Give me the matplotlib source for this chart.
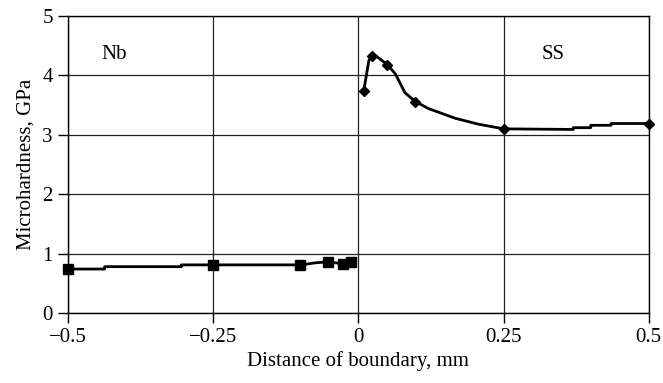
import matplotlib
matplotlib.use("Agg")
import matplotlib.pyplot as plt

# measured points (markers)
nb_x = [-0.5, -0.25, -0.10, -0.053, -0.027, -0.012]
nb_y = [0.74, 0.80, 0.80, 0.86, 0.83, 0.86]
ss_x = [0.009, 0.023, 0.050, 0.098, 0.25, 0.5]
ss_y = [3.73, 4.32, 4.18, 3.56, 3.10, 3.19]

# trace of the drawn line
nb_line_x = [-0.5, -0.437, -0.437, -0.305, -0.305, -0.098, -0.074, -0.053, -0.027, -0.012]
nb_line_y = [0.74, 0.74, 0.78, 0.78, 0.81, 0.81, 0.845, 0.86, 0.83, 0.86]
ss_line_x = [0.009, 0.018, 0.023, 0.030, 0.050, 0.064, 0.080, 0.098, 0.121, 0.166,
             0.206, 0.25, 0.37, 0.37, 0.40, 0.40, 0.435, 0.435, 0.5]
ss_line_y = [3.73, 4.25, 4.33, 4.33, 4.18, 4.02, 3.71, 3.56, 3.44, 3.28,
             3.18, 3.10, 3.09, 3.12, 3.12, 3.16, 3.16, 3.19, 3.19]

xticks = [-0.5, -0.25, 0, 0.25, 0.5]
xtick_labels = ["\u22120.5", "\u22120.25", "0", "0.25", "0.5"]
yticks = [0, 1, 2, 3, 4, 5]

plt.rcParams["font.family"] = ["Liberation Serif", "DejaVu Serif"]
plt.rcParams["font.size"] = 15

fig = plt.figure(figsize=(6.63, 3.83), dpi=100)
ax = fig.add_axes([0.1026, 0.1828, 0.8760, 0.7754])

ax.plot(nb_line_x, nb_line_y, color="black", lw=2.0, zorder=3)
ax.plot(nb_x, nb_y, ls="none", marker="s", ms=6.5, color="black", zorder=4, clip_on=False)
ax.plot(ss_line_x, ss_line_y, color="black", lw=2.0, zorder=3)
ax.plot(ss_x, ss_y, ls="none", marker="D", ms=5.5, color="black", zorder=4, clip_on=False)

ax.set_xlim(-0.5, 0.5)
ax.set_ylim(0, 5)
ax.set_xticks(xticks)
ax.set_xticklabels(xtick_labels)
ax.set_yticks(yticks)
ax.tick_params(direction="out", length=7, width=1, color="black", pad=4)
ax.grid(True, color="#222222", lw=0.9)
for s in ax.spines.values():
    s.set_linewidth(1.0)
    s.set_color("black")

ax.text(-0.42, 4.35, "Nb", ha="center", va="center")
ax.text(0.335, 4.35, "SS", ha="center", va="center")

ax.set_xlabel("Distance of boundary, mm", labelpad=3)
ax.set_ylabel("Microhardness, GPa", labelpad=5)

fig.savefig("out.png", dpi=100)
